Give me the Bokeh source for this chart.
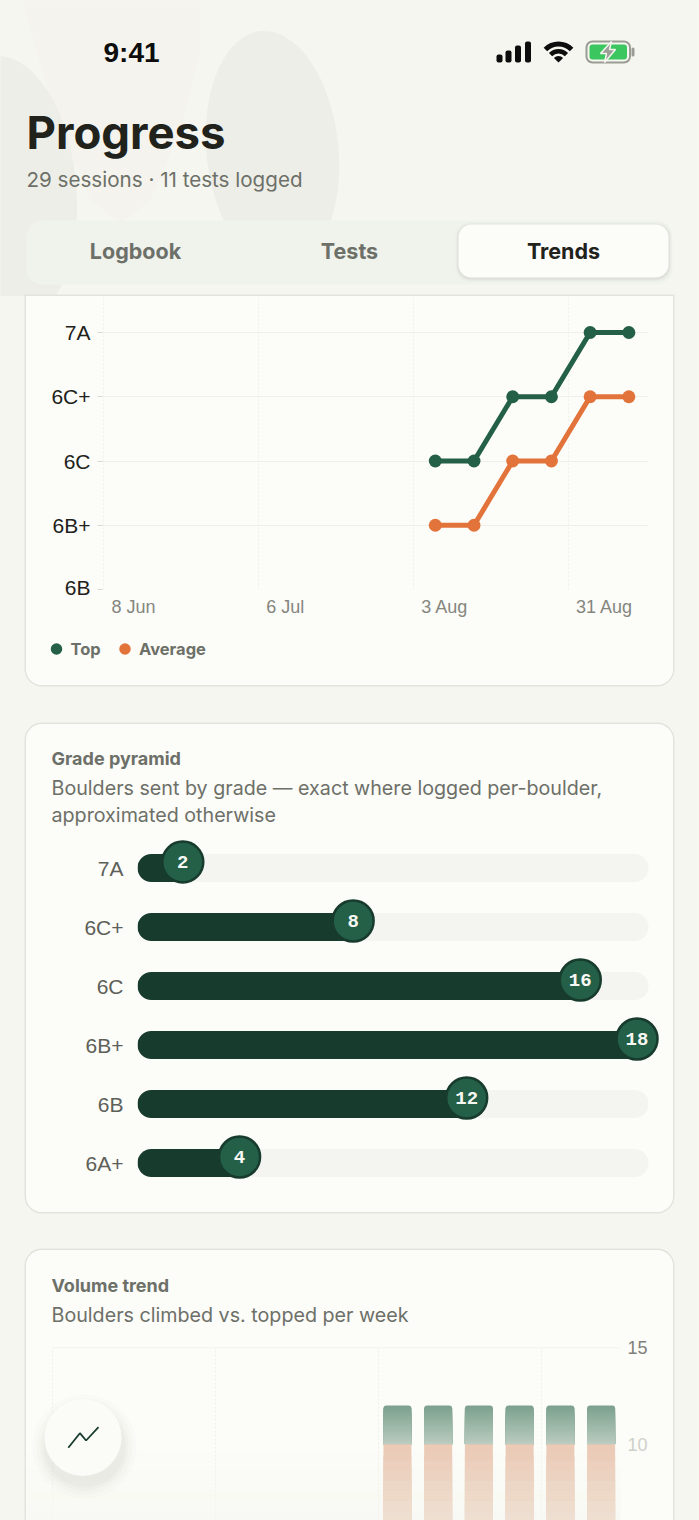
from bokeh.plotting import figure
from bokeh.layouts import column
from bokeh.embed import file_html
from bokeh.resources import INLINE
from bokeh.core.properties import value
from bokeh.models import (Range1d, FactorRange, ColumnDataSource, FixedTicker, BoxAnnotation, LinearAxis,
                          GlobalInlineStyleSheet)
from bokeh.transform import dodge
import numpy as np
import pandas as pd

# ---------- data ----------
GRADE_AXIS = ["6B", "6B+", "6C", "6C+", "7A"]
TICK_DATES = ["2025-06-08", "2025-07-06", "2025-08-03", "2025-08-31"]
TICK_LABELS = ["8 Jun", "6 Jul", "3 Aug", "31 Aug"]
WEEKS = ["2025-08-07", "2025-08-14", "2025-08-21", "2025-08-28", "2025-09-04", "2025-09-11"]
TOP = [2, 2, 3, 3, 4, 4]
AVERAGE = [1, 1, 2, 2, 3, 3]
SERIES = ["Top", "Average"]
PYRAMID_GRADES = ["7A", "6C+", "6C", "6B+", "6B", "6A+"]
PYRAMID_COUNTS = [2, 8, 16, 18, 12, 4]
VOLUME_WEEKS = ["2025-08-06 06:00", "2025-08-13 06:00", "2025-08-20 06:00",
                "2025-08-27 06:00", "2025-09-03 06:00", "2025-09-10 06:00"]
CLIMBED = [12, 12, 12, 12, 12, 12]
TOPPED = [10, 10, 10, 10, 10, 10]

# ---------- style ----------
PAGE = "#f5f6f0"; CARD = "#fcfcf8"; EDGE = "#e2e3dc"; INK = "#20221b"; GREY = "#6d7068"
GREEN = "#245f47"; DARK = "#173b2c"; ORANGE = "#e2733a"; SANS = "Inter"; HELV = "Liberation Sans"
D = lambda s: pd.Timestamp(s)
DAY = 86400000.0
CARD_W = 647
BASE = 0.37  # Bokeh's text box sits this fraction of the size below the requested baseline


def cardfig(height, **kw):
    return figure(width=CARD_W, height=height, output_backend="svg", toolbar_location=None, frame_align=False,
                  background_fill_color=CARD, border_fill_color=CARD, outline_line_color=None,
                  margin=(0, 0, 0, 0), **kw)


def textfig(top, bottom, **kw):
    kw.setdefault("x_range", Range1d(26, 673))
    p = cardfig(bottom - top, y_range=Range1d(bottom, top), min_border=0, **kw)
    p.xaxis.visible = False; p.yaxis.visible = False; p.grid.visible = False
    return p


def put(p, x, y, t, size, color, bold=False, font=SANS, align="left", **kw):
    p.text([x], [y - BASE * size], text=[t], text_font=value(font), text_font_size=value(f"{size}px"), text_color=color,
           text_font_style="bold" if bold else "normal", text_align=align, text_baseline="alphabetic", **kw)


def card(children, radius, bottom_margin):
    return column(*children, spacing=0, margin=(0, 0, bottom_margin, 26),
                  styles={"border-radius": radius, "overflow": "hidden", "background-color": CARD,
                          "box-shadow": f"0 0 0 1.5px {EDGE}"})


# ---------- header ----------
h = figure(width=699, height=296, output_backend="svg", toolbar_location=None, frame_align=False,
           background_fill_color=PAGE, border_fill_color=PAGE, outline_line_color=None,
           x_range=Range1d(0, 699), y_range=Range1d(296, 0), min_border=0, margin=(0, 0, 0, 0))
h.xaxis.visible = False; h.yaxis.visible = False; h.grid.visible = False
h.patch([22, 200, 200, 180, 150, 120, 90, 50], [0, 0, 50, 130, 200, 222, 200, 100], color="#f4f3ed", line_width=0)
h.ellipse([272], [150], width=[132], height=[240], angle=[0.1], color="#edeee8", line_width=0)
h.ellipse([5], [190], width=[142], height=[270], angle=[0.08], color="#edeee8", line_width=0)
h.quad(left=[26], right=[672], top=[220], bottom=[284], color="#f0f2ec", line_width=0, border_radius=16)
for i, a in enumerate([0.03, 0.05, 0.08]):
    d = 3 - i
    h.quad(left=[458 - d], right=[668 + d], top=[224 - d + 1], bottom=[277 + d + 1], color="#80827a", alpha=a,
           line_width=0, border_radius=14)
h.quad(left=[458], right=[668], top=[224], bottom=[277], color="#fcfcf9", line_width=0, border_radius=13)

put(h, 103, 62, "9:41", 28, "#0d0d0d", True, HELV)
put(h, 26, 148.5, "Progress", 45.5, INK, True)
put(h, 26, 187, "29 sessions · 11 tests logged", 20.6, GREY)
put(h, 135, 258.5, "Logbook", 21.5, GREY, True, align="center")
put(h, 349, 258.5, "Tests", 21.5, GREY, True, align="center")
put(h, 563, 258.5, "Trends", 21.5, INK, True, align="center")
h.quad(left=[496, 505, 514.5, 524.5], right=[502, 511, 520.5, 530.5], top=[54, 50, 45, 41], bottom=[62] * 4,
       color="#0d0d0d", line_width=0, border_radius=2)
for ri, ro in [(16, 21), (9, 13.5)]:
    h.annular_wedge([558], [62], inner_radius=ri, outer_radius=ro, inner_radius_units="screen",
                    outer_radius_units="screen", start_angle=np.pi / 4, end_angle=3 * np.pi / 4,
                    color="#0d0d0d", line_width=0)
h.wedge([558], [62], radius=6.5, radius_units="screen", start_angle=np.pi / 4, end_angle=3 * np.pi / 4,
        color="#0d0d0d", line_width=0)
h.quad(left=[586], right=[629.5], top=[41], bottom=[62], fill_color=None, line_color="#9a9c94", line_width=2,
       border_radius=6)
h.quad(left=[589], right=[626.5], top=[44], bottom=[59], color="#3cc65f", line_width=0, border_radius=3)
h.quad(left=[631], right=[634], top=[47], bottom=[56], color="#9a9c94", line_width=0, border_radius=2)
h.patch([611, 600, 606, 604, 615, 609], [41, 53, 53, 62, 49, 49], fill_color="#9b9f97", line_color=PAGE, line_width=1.5)

# ---------- chart 1: grade progression ----------
Y_STEP = 64.25
PXD1 = 5.53
x0 = D(TICK_DATES[0])
c1 = cardfig(302, x_axis_type="datetime",
             x_range=Range1d(x0 - pd.Timedelta(days=1 / PXD1), x0 + pd.Timedelta(days=(648 - 103) / PXD1)),
             y_range=Range1d(0, (589 - 296) / Y_STEP),
             min_border_left=76, min_border_right=25, min_border_top=0, min_border_bottom=9)
c1.xaxis.visible = False
c1.yaxis.ticker = FixedTicker(ticks=list(range(len(GRADE_AXIS))))
c1.yaxis.major_label_overrides = {i: g for i, g in enumerate(GRADE_AXIS)}
c1.yaxis.major_label_text_font = HELV
c1.yaxis.major_label_text_font_size = "21px"
c1.yaxis.major_label_text_color = INK
c1.yaxis.axis_line_color = None
c1.yaxis.minor_tick_line_color = None
c1.yaxis.major_tick_line_color = "#d8d8d2"
c1.yaxis.major_tick_in = 0
c1.yaxis.major_tick_out = 5
c1.yaxis.major_label_standoff = 7
c1.ygrid.ticker = FixedTicker(ticks=list(range(len(GRADE_AXIS))))
c1.ygrid.grid_line_color = "#f0f0ea"
c1.xgrid.ticker = FixedTicker(ticks=[D(t).value / 1e6 for t in TICK_DATES])
c1.xgrid.grid_line_color = "#f1f1eb"
c1.xgrid.grid_line_dash = "2 2"
week_dates = pd.to_datetime(WEEKS)
c1.line(week_dates, TOP, line_color=GREEN, line_width=5)
c1.scatter(week_dates, TOP, size=13, color=GREEN, line_width=0)
c1.line(week_dates, AVERAGE, line_color=ORANGE, line_width=5)
c1.scatter(week_dates, AVERAGE, size=13, color=ORANGE, line_width=0)

foot = textfig(598, 685, x_axis_type="datetime",
               x_range=Range1d(x0 - pd.Timedelta(days=(103 - 26) / PXD1), x0 + pd.Timedelta(days=(673 - 103) / PXD1)))
foot.extra_x_ranges["px"] = Range1d(26, 673)
tick_size = 18
foot.text(x=pd.to_datetime(TICK_DATES), y=[613.5 - BASE * tick_size] * 4, text=TICK_LABELS, x_offset=8,
          text_align="left", text_baseline="alphabetic", text_font=value(HELV),
          text_font_size=value(f"{tick_size}px"), text_color="#85867f")
for sx, name, col in zip([56, 124.5], SERIES, [GREEN, ORANGE]):
    foot.scatter([sx], [648.5], size=11.5, color=col, line_width=0, x_range_name="px")
    put(foot, sx + 14, 654.5, name, 16.5, GREY, True, x_range_name="px")

# ---------- chart 2: pyramid ----------
PX = 28.39
t2 = textfig(724, 838)
put(t2, 51, 765, "Grade pyramid", 18, GREY, True)
put(t2, 51, 795, "Boulders sent by grade — exact where logged per-boulder,", 19.7, GREY)
put(t2, 51, 822, "approximated otherwise", 19.7, GREY)
c2 = cardfig(374, x_range=Range1d(0, (665 - 137) / PX), y_range=FactorRange(factors=PYRAMID_GRADES[::-1]),
             min_border_left=111, min_border_right=8, min_border_top=0, min_border_bottom=20)
c2.xaxis.visible = False
c2.grid.visible = False
c2.yaxis.axis_line_color = None
c2.yaxis.major_tick_line_color = None
c2.yaxis.minor_tick_line_color = None
c2.yaxis.major_label_standoff = 8
c2.yaxis.major_label_text_font = HELV
c2.yaxis.major_label_text_font_size = "21px"
c2.yaxis.major_label_text_color = "#5d6058"
src2 = ColumnDataSource(dict(grade=PYRAMID_GRADES, n=PYRAMID_COUNTS, t=[str(v) for v in PYRAMID_COUNTS],
                             full=[max(PYRAMID_COUNTS)] * len(PYRAMID_COUNTS)))
c2.hbar(y="grade", left=0, right="full", height=28 / 59, source=src2, color="#f4f4f0", line_width=0, border_radius=14)
c2.hbar(y="grade", left=0, right="n", height=28 / 59, source=src2, color=DARK, line_width=0, border_radius=14)
bx = dodge("n", -11.5 / PX, range=c2.x_range)
by = dodge("grade", 6 / 59, range=c2.y_range)
c2.scatter(x=bx, y=by, source=src2, size=41, fill_color=GREEN, line_color=DARK, line_width=2.5)
c2.text(x=bx, y=by, text="t", source=src2, text_align="center", text_baseline="middle", text_color="#f7f8f2",
        text_font=value("Liberation Mono"), text_font_style="bold", text_font_size=value("19px"))

# ---------- chart 3: volume ----------
PXD3 = 5.82
Y3 = 96.7 / 5
a3 = D(TICK_DATES[2])
t3 = textfig(1250, 1335)
put(t3, 51, 1292, "Volume trend", 18, GREY, True)
put(t3, 51, 1322, "Boulders climbed vs. topped per week", 19.7, GREY)
c3 = cardfig(185, x_axis_type="datetime",
             x_range=Range1d(a3 - pd.Timedelta(days=(378 - 26) / PXD3), a3 + pd.Timedelta(days=(620 - 378) / PXD3)),
             y_range=Range1d(15 - (1520 - 1347) / Y3, 15),
             min_border_left=0, min_border_right=53, min_border_top=12, min_border_bottom=0,
             y_axis_location="right")
c3.xaxis.visible = False
c3.ygrid.visible = False
c3.xgrid.ticker = FixedTicker(ticks=[D(t).value / 1e6 for t in TICK_DATES])
c3.xgrid.grid_line_color = "#f0f0ea"
c3.xgrid.grid_line_dash = "2 2"


def style_axis(ax, color, standoff):
    ax.axis_line_color = None
    ax.major_tick_line_color = None
    ax.minor_tick_line_color = None
    ax.major_label_standoff = standoff
    ax.major_label_text_font = HELV
    ax.major_label_text_font_size = "18px"
    ax.major_label_text_color = color


c3.yaxis.ticker = FixedTicker(ticks=[15])
style_axis(c3.yaxis[0], "#7f807a", 1)
ax10 = LinearAxis(ticker=FixedTicker(ticks=[10]))
style_axis(ax10, "#cfd0c9", -29)
c3.add_layout(ax10, "right")
c3.segment(x0=[D(TICK_DATES[0])], x1=[D(VOLUME_WEEKS[-1]) + pd.Timedelta(days=3.5)], y0=[15], y1=[15],
           line_color="#efefe9", line_width=1.5)
vw = pd.to_datetime(VOLUME_WEEKS)
bw = 28 / PXD3 * DAY
N = 16


def mix(c0, c1_, f):
    a = np.array([int(c0[i:i + 2], 16) for i in (1, 3, 5)])
    b = np.array([int(c1_[i:i + 2], 16) for i in (1, 3, 5)])
    return "#%02x%02x%02x" % tuple(int(v) for v in a + (b - a) * f)


for k in range(N, 0, -1):  # painter's order: each shorter bar recolours the lower part of the longer one
    f = k / N
    c3.vbar(x=vw, width=bw, top=[t + (c - t) * f for t, c in zip(TOPPED, CLIMBED)], bottom=TOPPED,
            color=mix("#bccdc1", "#7ea28f", f), line_width=0, border_radius=(3, 3, 0, 0) if k == N else 0)
for k in range(N, 0, -1):
    f = k / N
    c3.vbar(x=vw, width=bw, top=[t * f for t in TOPPED], bottom=0, color=mix("#e9d2c1", "#ebc9b4", f), line_width=0)
for i in range(8):  # page-coloured fade at the foot of the scroll view
    t = 1440 + i * 10
    c3.add_layout(BoxAnnotation(left=0, right=CARD_W, top=1520 - t, bottom=1520 - t - 10, left_units="screen",
                                right_units="screen", top_units="screen", bottom_units="screen", fill_color=PAGE,
                                fill_alpha=0.03 + 0.06 * i, line_alpha=0, level="guide", editable=False))
c3.extra_x_ranges["px"] = Range1d(26, 620)
c3.extra_y_ranges["py"] = Range1d(1520, 1347)
for r, a in [(52, 0.02), (48, 0.025), (44, 0.03), (41, 0.03)]:
    c3.circle(x=[84], y=[1446], radius=r, radius_units="screen", color="#6d6f68", alpha=a, line_width=0,
              x_range_name="px", y_range_name="py", level="overlay")
c3.circle(x=[82.5], y=[1437], radius=38.5, radius_units="screen", color="#fbfcf7", line_width=0,
          x_range_name="px", y_range_name="py", level="overlay")
c3.line(x=[67.8, 79.4, 85.6, 98], y=[1447.3, 1432.7, 1440, 1426.7], line_color=DARK, line_width=1.8,
        x_range_name="px", y_range_name="py", level="overlay")

layout = column(h, card([c1, foot], "0 0 16px 16px", 39), card([t2, c2], "16px", 38), card([t3, c3], "16px 16px 0 0", 0),
                spacing=0)
h.stylesheets = [GlobalInlineStyleSheet(css=f"html,body{{background:{PAGE};}}")]
open("out.html", "w").write(file_html(layout, INLINE))
